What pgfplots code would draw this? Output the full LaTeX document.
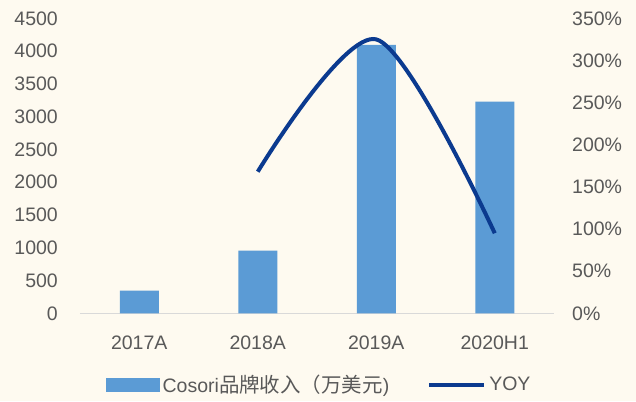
\documentclass[border=0pt]{standalone}
\usepackage{pgfplots}
\pgfplotsset{compat=1.18}
\usepackage{fontspec}
\setmainfont{Liberation Sans}
\newfontfamily\cjk[Scale=1.05]{Noto Sans CJK SC}
\definecolor{bg}{HTML}{FEFAF0}
\definecolor{barc}{HTML}{5B9BD5}
\definecolor{linec}{HTML}{0B3A8F}
\definecolor{txt}{HTML}{595959}
\definecolor{axc}{HTML}{D9D9D9}
\begin{document}
\fontsize{19.5}{23}\selectfont
\begin{tikzpicture}
\useasboundingbox (-80pt,-87.7pt) rectangle (556pt,313.3pt);
\fill[bg] (-80pt,-87.7pt) rectangle (556pt,313.3pt);
\begin{axis}[
  at={(0pt,0pt)}, anchor=south west,
  scale only axis, width=474pt, height=295pt,
  xmin=-0.5, xmax=3.5, ymin=0, ymax=4500,
  ytick={0,500,...,4500},
  xtick={0,1,2,3}, xticklabels={2017A,2018A,2019A,2020H1},
  axis x line*=bottom, axis y line*=left,
  y axis line style={draw=none},
  x axis line style={draw=axc, line width=1.5pt, -},
  xtick style={draw=none}, ytick style={draw=none},
  extra x ticks={-0.5,0.5,1.5,2.5,3.5}, extra x tick labels={},
  extra x tick style={major tick length=6pt, tick align=inside, tick style={draw=axc, line width=1.5pt}},
  /pgf/number format/assume math mode=true,
  /pgf/number format/1000 sep={},
  ticklabel style={text=txt},
  xticklabel style={inner sep=0pt, anchor=north, yshift=-18pt},
  yticklabel style={inner sep=0pt, anchor=east, xshift=-22pt},
  ybar, bar width=39pt, bar shift=0pt,
]
\addplot[fill=barc, draw=none] coordinates {(0,345) (1,955) (2,4093) (3,3228)};
\end{axis}
\begin{axis}[
  at={(0pt,0pt)}, anchor=south west,
  scale only axis, width=474pt, height=295pt,
  xmin=-0.5, xmax=3.5, ymin=0, ymax=350,
  ytick={0,50,...,350},
  axis x line=none, axis y line*=right,
  y axis line style={draw=none}, ytick style={draw=none},
  /pgf/number format/assume math mode=true,
  yticklabel={\pgfmathprintnumber{\tick}\%},
  yticklabel style={inner sep=0pt, anchor=west, xshift=18pt, text=txt},
  legend style={at={(0.505,-0.243)}, anchor=center, draw=none, fill=none,
    legend columns=2, text=txt,
    /tikz/every odd column/.append style={column sep=1pt},
    /tikz/every even column/.append style={column sep=36pt}},
]
\addlegendimage{legend image code/.code={\fill[barc] (0pt,-6.3pt) rectangle (53pt,6.3pt);}}
\addlegendentry{Cosori{\cjk 品牌收入（万美元})}
\addplot[linec, line width=4pt, smooth,
  legend image code/.code={\draw[linec, line width=4pt] (0pt,0pt) -- (55pt,0pt);}]
  coordinates {(1,168) (2,325) (3,95)};
\addlegendentry{YOY}
\end{axis}
\end{tikzpicture}
\end{document}
